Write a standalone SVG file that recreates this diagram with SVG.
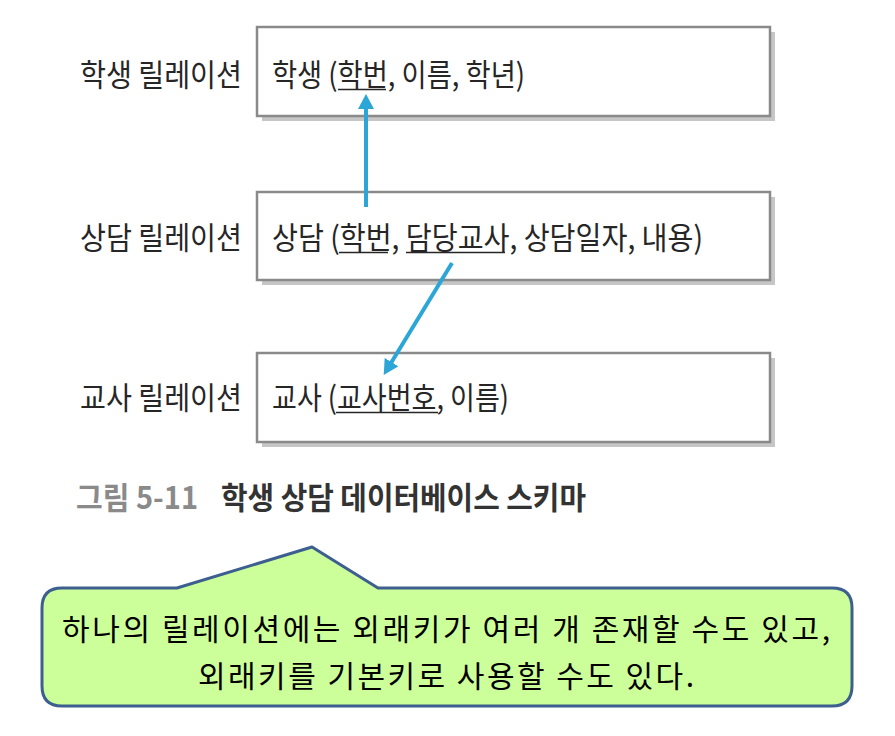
<svg xmlns="http://www.w3.org/2000/svg" width="895" height="736" viewBox="0 0 895 736">
<style>
.t{font-family:"Noto Sans CJK KR","Noto Sans",sans-serif;font-size:31px;fill:#262626}
.ul{stroke:#262626;stroke-width:1.6}
.box{fill:#fff;stroke:#8a8a8a;stroke-width:2.5}
.sh{fill:#c6c6c6}
.con{stroke:#2ba6d6;stroke-width:4;fill:none}
.cap{font-family:"Noto Sans CJK KR","Noto Sans",sans-serif;font-size:31px;font-weight:bold}
.call{font-family:"Noto Sans CJK KR","Noto Sans",sans-serif;font-size:30px;fill:#000}
</style>
<defs>
<marker id="ah" markerUnits="userSpaceOnUse" markerWidth="15" markerHeight="16" refX="1" refY="8" orient="auto">
<path d="M0,0 L15,8 L0,16 z" fill="#2ba6d6"/>
</marker>
</defs>
<rect width="895" height="736" fill="#fff"/>
<g id="student">
<text class="t" x="80" y="86" textLength="162" lengthAdjust="spacingAndGlyphs">학생 릴레이션</text>
<rect class="sh" x="262" y="32" width="513" height="89"/>
<rect class="box" x="257" y="27" width="513" height="89"/>
<text class="t" x="272" y="86" textLength="253" lengthAdjust="spacingAndGlyphs">학생 (학번, 이름, 학년)</text>
<line class="ul" x1="338" y1="89.5" x2="386" y2="89.5"/>
</g>
<g id="counsel">
<text class="t" x="80" y="249" textLength="162" lengthAdjust="spacingAndGlyphs">상담 릴레이션</text>
<rect class="sh" x="262" y="197" width="513" height="88"/>
<rect class="box" x="257" y="192" width="513" height="88"/>
<text class="t" x="272" y="249" textLength="431" lengthAdjust="spacingAndGlyphs">상담 (학번, 담당교사, 상담일자, 내용)</text>
<line class="ul" x1="339" y1="252.5" x2="388" y2="252.5"/>
<line class="ul" x1="406" y1="252.5" x2="505" y2="252.5"/>
</g>
<g id="teacher">
<text class="t" x="80" y="409" textLength="162" lengthAdjust="spacingAndGlyphs">교사 릴레이션</text>
<rect class="sh" x="262" y="358" width="513" height="89"/>
<rect class="box" x="257" y="353" width="513" height="89"/>
<text class="t" x="272" y="409" textLength="237" lengthAdjust="spacingAndGlyphs">교사 (교사번호, 이름)</text>
<line class="ul" x1="336" y1="412.5" x2="438" y2="412.5"/>
</g>
<g id="connectors">
<line class="con" x1="366" y1="207" x2="366" y2="108" marker-end="url(#ah)"/>
<line class="con" x1="452" y1="263" x2="391" y2="363" marker-end="url(#ah)"/>
</g>
<g id="caption">
<text class="cap" x="76" y="509" fill="#8a8a8a" textLength="122" lengthAdjust="spacingAndGlyphs">그림 5-11</text>
<text class="cap" x="221" y="509" fill="#333" textLength="365" lengthAdjust="spacingAndGlyphs">학생 상담 데이터베이스 스키마</text>
</g>
<g id="callout">
<path d="M62,588 L177,588 L312,547 L378,588 L832,588 Q852,588 852,608 L852,686 Q852,706 832,706 L62,706 Q42,706 42,686 L42,608 Q42,588 62,588 Z" fill="#ccff99" stroke="#3c5f8f" stroke-width="3" stroke-linejoin="round"/>
<text class="call" x="446" y="640" text-anchor="middle" textLength="768" lengthAdjust="spacing">하나의 릴레이션에는 외래키가 여러 개 존재할 수도 있고,</text>
<text class="call" x="446" y="687" text-anchor="middle" textLength="496" lengthAdjust="spacing">외래키를 기본키로 사용할 수도 있다.</text>
</g>
</svg>
